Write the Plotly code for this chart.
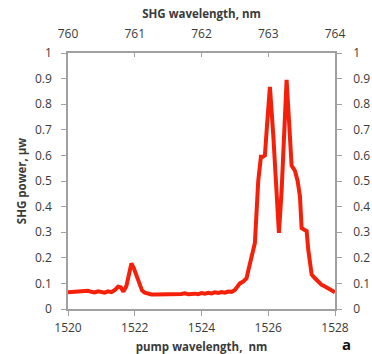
import plotly.graph_objects as go

pump_nm = [1520.0, 1520.1, 1520.2, 1520.3, 1520.4, 1520.5, 1520.6, 1520.7, 1520.8, 1520.9,
           1521.0, 1521.1, 1521.2, 1521.3, 1521.4, 1521.5, 1521.58, 1521.66, 1521.75, 1521.82,
           1521.9, 1521.97, 1522.06, 1522.15, 1522.22, 1522.3, 1522.4, 1522.5, 1522.6, 1522.8,
           1523.0, 1523.2, 1523.4, 1523.5, 1523.6, 1523.8, 1523.9, 1524.0, 1524.1, 1524.2,
           1524.3, 1524.4, 1524.5, 1524.6, 1524.7, 1524.8, 1524.9, 1525.0, 1525.08, 1525.15,
           1525.25, 1525.35, 1525.42, 1525.5, 1525.6, 1525.7, 1525.78, 1525.84, 1525.9, 1525.97,
           1526.05, 1526.15, 1526.25, 1526.32, 1526.4, 1526.47, 1526.55, 1526.62, 1526.7, 1526.8,
           1526.88, 1526.95, 1527.0, 1527.08, 1527.15, 1527.2, 1527.3, 1527.4, 1527.5, 1527.6,
           1527.7, 1527.79, 1527.87, 1527.94, 1528.0]
shg_power = [0.065, 0.066, 0.068, 0.066, 0.069, 0.068, 0.071, 0.067, 0.065, 0.069,
             0.066, 0.064, 0.069, 0.066, 0.074, 0.087, 0.085, 0.068, 0.09, 0.14,
             0.178, 0.16, 0.126, 0.09, 0.072, 0.064, 0.059, 0.057, 0.057, 0.057,
             0.058, 0.058, 0.059, 0.061, 0.058, 0.06, 0.058, 0.062, 0.06, 0.063,
             0.061, 0.065, 0.063, 0.066, 0.064, 0.068, 0.067, 0.074, 0.09, 0.1,
             0.107, 0.12, 0.16, 0.21, 0.258, 0.5, 0.595, 0.595, 0.6, 0.73,
             0.868, 0.68, 0.46, 0.297, 0.46, 0.7, 0.895, 0.74, 0.56, 0.54,
             0.5, 0.44, 0.316, 0.31, 0.305, 0.23, 0.135, 0.12, 0.105, 0.094,
             0.088, 0.082, 0.075, 0.07, 0.065]

bottom_ticks = [1520, 1522, 1524, 1526, 1528]
top_ticks = [760, 761, 762, 763, 764]
y_ticks = [0, 0.1, 0.2, 0.3, 0.4, 0.5, 0.6, 0.7, 0.8, 0.9, 1]
y_labels = ["0", "0.1", "0.2", "0.3", "0.4", "0.5", "0.6", "0.7", "0.8", "0.9", "1"]

FONT = "Open Sans"
TXT = "#3a3a3a"
AX = "#a0a0a0"

W, H = 372, 354
L, R, T, B = 68, 37, 53, 45

fig = go.Figure()
fig.add_trace(go.Scatter(x=pump_nm, y=shg_power, mode="lines",
                         line=dict(color="#f5200a", width=4), showlegend=False))
fig.add_trace(go.Scatter(x=[top_ticks[0], top_ticks[-1]], y=[0, 1], xaxis="x2", yaxis="y2",
                         mode="lines", line=dict(width=0), hoverinfo="skip", showlegend=False))

fig.update_layout(
    width=W, height=H,
    margin=dict(l=L, r=R, t=T, b=B, autoexpand=False),
    paper_bgcolor="white", plot_bgcolor="white",
    font=dict(family=FONT, size=11, color=TXT),
    xaxis=dict(range=[1520, 1528], tickvals=bottom_ticks, showgrid=False, zeroline=False,
               showline=True, linecolor=AX, linewidth=1.5, ticks="outside", ticklen=5,
               tickcolor=AX, tickfont=dict(size=12), ticklabelstandoff=2,
               title=dict(text="<b>pump wavelength,  nm</b>", font=dict(size=11.5), standoff=8)),
    xaxis2=dict(range=[760, 764], tickvals=top_ticks, overlaying="x", side="top",
                showgrid=False, zeroline=False, showline=True, linecolor=AX, linewidth=1.5,
                ticks="inside", ticklen=4, tickcolor=AX, tickfont=dict(size=12),
                ticklabelstandoff=8,
                title=dict(text="<b>SHG wavelength, nm</b>", font=dict(size=11.5), standoff=4)),
    yaxis=dict(range=[0, 1], tickvals=y_ticks, ticktext=y_labels, showgrid=False,
               zeroline=False, showline=True, linecolor=AX, linewidth=1.5, ticks="outside",
               ticklen=5, tickcolor=AX, tickfont=dict(size=12), ticklabelstandoff=7,
               title=dict(text="<b>SHG power, μw</b>", font=dict(size=11.5), standoff=6)),
    yaxis2=dict(range=[0, 1], tickvals=y_ticks, ticktext=y_labels, overlaying="y", side="right",
                showgrid=False, zeroline=False, showline=True, linecolor=AX, linewidth=1.5,
                ticks="outside", ticklen=5, tickcolor=AX, tickfont=dict(size=12),
                ticklabelstandoff=9),
    annotations=[dict(text="<b>a</b>", xref="paper", yref="paper",
                      x=(346 - L) / (W - L - R), y=(H - B - 344) / (H - T - B),
                      xanchor="center", yanchor="middle",
                      showarrow=False, font=dict(size=15, color="#111111"))],
)

fig.write_html(
    "out.html", config={"displayModeBar": False},
    post_script=("document.body.style.margin='0';"
                 "document.documentElement.style.overflow='hidden';"
                 "document.body.style.overflow='hidden';window.scrollTo(0,0);"),
)
